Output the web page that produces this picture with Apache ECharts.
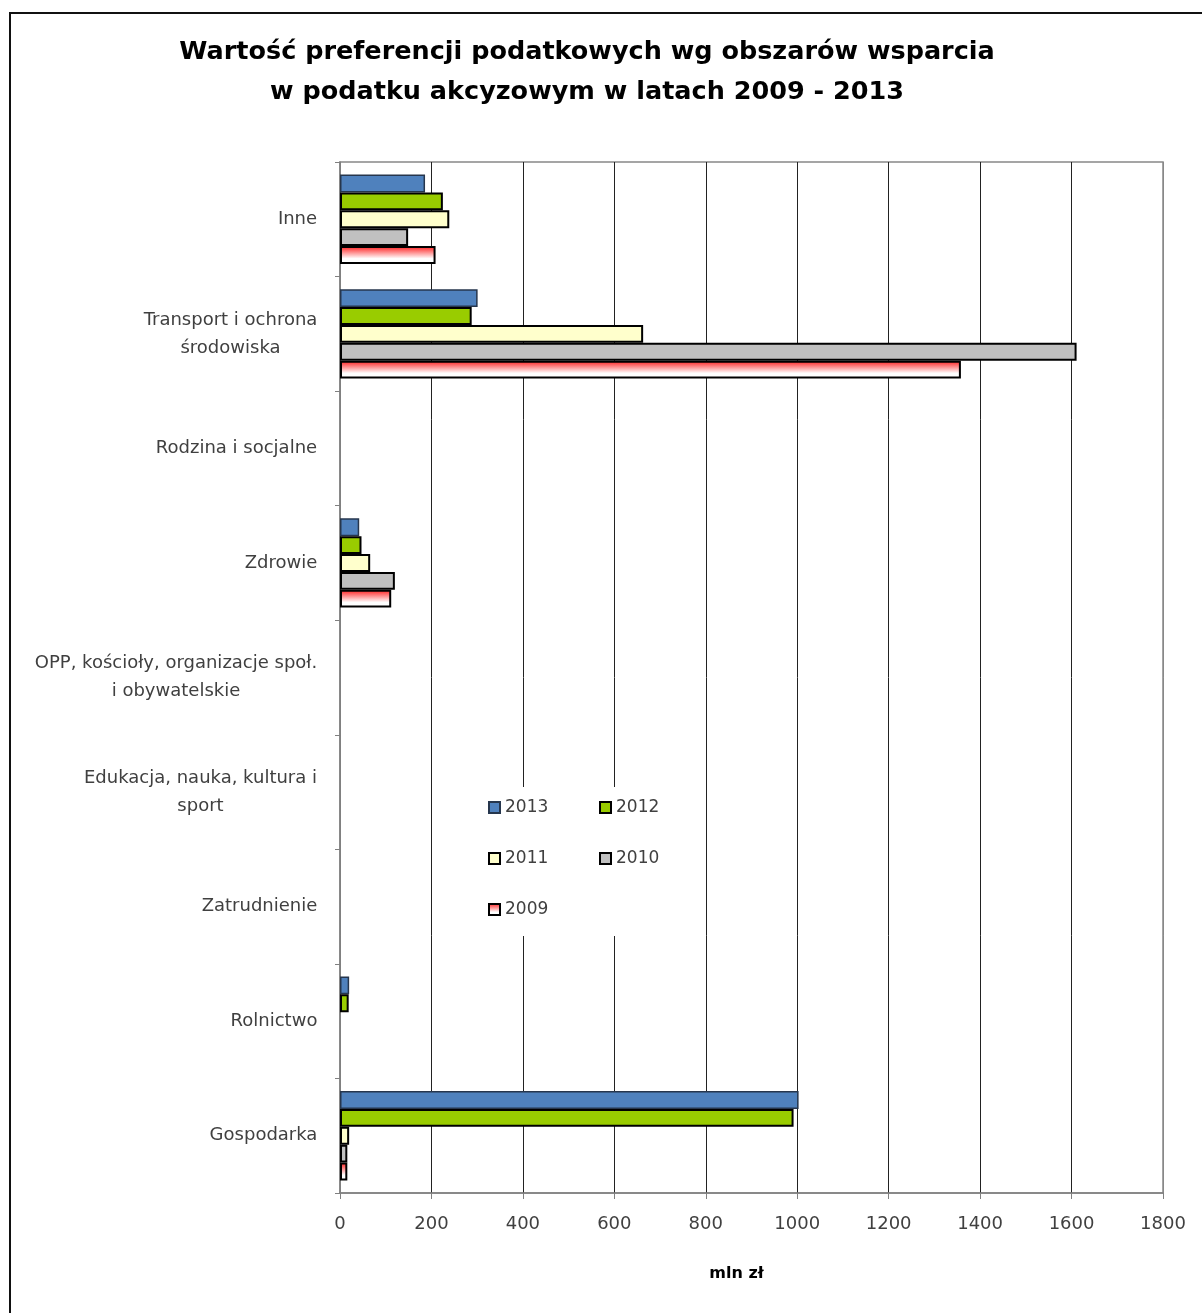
<!DOCTYPE html>
<html>
<head>
<meta charset="utf-8">
<script src="https://cdn.jsdelivr.net/npm/echarts@6/dist/echarts.min.js"></script>
<style>
html,body{margin:0;padding:0;background:#fff;}
#chart{width:1202px;height:1313px;}
</style>
</head>
<body>
<div id="chart"></div>
<script>
// Categories (top to bottom)
var categories = [
  'Inne',
  'Transport i ochrona\nśrodowiska',
  'Rodzina i socjalne',
  'Zdrowie',
  'OPP, kościoły, organizacje społ.\ni obywatelskie',
  'Edukacja, nauka, kultura i\nsport',
  'Zatrudnienie',
  'Rolnictwo',
  'Gospodarka'
];
var years = ['2013', '2012', '2011', '2010', '2009'];
// null = no bar drawn in the reference
var values2013 = [186, 301, null, 42, null, null, null, 20, 1003];
var values2012 = [225, 288, null, 47, null, null, null, 19, 992];
var values2011 = [239, 663, null, 66, null, null, null, null, 20];
var values2010 = [149, 1611, null, 120, null, null, null, null, 16];
var values2009 = [209, 1358, null, 112, null, null, null, null, 16];
var xTicks = { min: 0, max: 1800, interval: 200 };
var axisName = 'mln zł';
var titleText = 'Wartość preferencji podatkowych wg obszarów wsparcia\nw podatku akcyzowym w latach 2009 - 2013';

var FONT = 'DejaVu Sans';
var labelSize = 18;
var labelColor = '#404040';

// measure widest line of each label to center multi-line labels
var cv = document.createElement('canvas').getContext('2d');
cv.font = labelSize + 'px "' + FONT + '"';
var rich = {};
categories.forEach(function (c, i) {
  var w = 0;
  c.split('\n').forEach(function (l) { w = Math.max(w, cv.measureText(l).width); });
  rich['r' + i] = { width: Math.ceil(w) + 1, align: 'center', fontSize: labelSize, fontFamily: FONT, color: labelColor, lineHeight: 28 };
});

var chart = echarts.init(document.getElementById('chart'), null, { renderer: 'canvas' });

var borderBlack = { borderColor: '#000', borderWidth: 2 };
var seriesDefs = [
  { name: '2013', data: values2013, itemStyle: { color: '#4F81BD', borderColor: '#26364d', borderWidth: 1.5 } },
  { name: '2012', data: values2012, itemStyle: Object.assign({ color: '#99CC00' }, borderBlack) },
  { name: '2011', data: values2011, itemStyle: Object.assign({ color: '#FFFFCC' }, borderBlack) },
  { name: '2010', data: values2010, itemStyle: Object.assign({ color: '#C0C0C0' }, borderBlack) },
  { name: '2009', data: values2009, itemStyle: Object.assign({
      color: new echarts.graphic.LinearGradient(0, 0, 0, 1, [
        { offset: 0, color: '#FF1A1A' },
        { offset: 0.7, color: '#FFFFFF' },
        { offset: 1, color: '#FFFFFF' }
      ]) }, borderBlack) }
];

var option = {
  backgroundColor: '#fff',
  animation: false,
  title: {
    text: titleText,
    left: 587,
    textAlign: 'center',
    top: 32,
    padding: 0,
    textStyle: { fontFamily: FONT, fontWeight: 'bold', fontSize: 25.5, lineHeight: 40, color: '#000' }
  },
  legend: {
    data: years,
    left: 478,
    top: 787,
    width: 200,
    padding: [12, 15, 18, 10],
    backgroundColor: '#fff',
    itemWidth: 11,
    itemHeight: 11,
    itemGap: 34,
    icon: 'rect',
    textStyle: { fontFamily: FONT, fontSize: 17, color: labelColor, width: 60, lineHeight: 17 }
  },
  grid: {
    left: 340, top: 162, width: 823, height: 1031,
    show: true, borderColor: '#888', borderWidth: 1.5, backgroundColor: 'transparent'
  },
  xAxis: {
    type: 'value',
    min: xTicks.min, max: xTicks.max, interval: xTicks.interval,
    name: axisName,
    nameLocation: 'middle',
    nameGap: 73,
    nameTextStyle: { fontFamily: FONT, fontWeight: 'bold', fontSize: 16, color: '#000', padding: [0, 30, 0, 0] },
    axisLine: { show: true, lineStyle: { color: '#808080', width: 1.5 } },
    axisTick: { show: true, length: 6, lineStyle: { color: '#808080' } },
    axisLabel: { fontFamily: FONT, fontSize: 18, color: labelColor, margin: 22, formatter: function (v) { return String(v); } },
    splitLine: { show: true, lineStyle: { color: ['#808080', '#222', '#222', '#222', '#222', '#222', '#222', '#222', '#222', '#888'], width: 1 } }
  },
  yAxis: {
    type: 'category',
    inverse: true,
    data: categories,
    axisLine: { show: true, lineStyle: { color: '#808080', width: 1.5 } },
    axisTick: { show: true, length: 5, lineStyle: { color: '#808080' } },
    axisLabel: {
      margin: 22,
      formatter: function (val, idx) {
        return val.split('\n').map(function (l) { return '{r' + idx + '|' + l + '}'; }).join('\n');
      },
      rich: rich
    },
    splitLine: { show: false }
  },
  series: seriesDefs.map(function (s) {
    return {
      type: 'bar',
      name: s.name,
      data: s.data,
      itemStyle: s.itemStyle,
      barGap: '0%',
      barCategoryGap: '22%'
    };
  }),
  graphic: [{
    type: 'rect',
    shape: { x: 10, y: 13, width: 1300, height: 1400 },
    style: { fill: 'none', stroke: '#111', lineWidth: 2 },
    silent: true
  }]
};
chart.setOption(option);
</script>
</body>
</html>
